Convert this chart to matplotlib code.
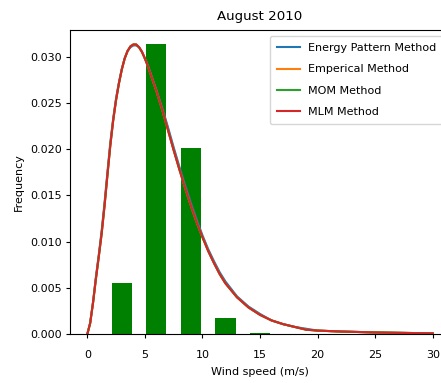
import matplotlib
matplotlib.use("Agg")
import matplotlib.pyplot as plt

# Observed wind speed histogram (m/s bins) for August 2010
bin_centers = [3, 6, 9, 12, 15]
bin_freq = [0.0055, 0.0313, 0.0201, 0.0018, 0.00015]

# Fitted Weibull curves sampled over the wind speed range
speed = [0, 0.25, 0.5, 0.75, 1.0, 1.25, 1.5, 1.75, 2.0, 2.25, 2.5, 2.75,
         3.0, 3.25, 3.5, 3.75, 4.0, 4.25, 4.5, 4.75, 5.0, 5.25, 5.5, 5.75,
         6.0, 6.5, 7.0, 7.5, 8.0, 8.5, 9.0, 9.5, 10.0, 10.5, 11.0, 11.5,
         12.0, 13.0, 14.0, 15.0, 16.0, 17.0, 18.0, 19.0, 20.0, 22.0, 25.0, 30.0]

pdf_energy = [0, 0.0012, 0.0035, 0.0062, 0.0086, 0.0112, 0.0142, 0.0175,
              0.0207, 0.0233, 0.0255, 0.0272, 0.0287, 0.0298, 0.0306, 0.0310,
              0.0312, 0.0312, 0.0310, 0.0305, 0.0298, 0.0291, 0.0282, 0.0273,
              0.0264, 0.0245, 0.0224, 0.0202, 0.0181, 0.0161, 0.0142, 0.0124,
              0.0107, 0.0092, 0.0079, 0.0067, 0.0057, 0.0041, 0.0030, 0.0022,
              0.0015, 0.0011, 0.0008, 0.0006, 0.0004, 0.0003, 0.0002, 0.0001]

# the other three estimators give practically the same curve
pdf_mlm = [0, 0.0012, 0.0034, 0.0060, 0.0084, 0.0109, 0.0139, 0.0172,
           0.0204, 0.0231, 0.0253, 0.0271, 0.0286, 0.0298, 0.0306, 0.0311,
           0.0313, 0.0313, 0.0310, 0.0305, 0.0298, 0.0290, 0.0281, 0.0272,
           0.0263, 0.0243, 0.0221, 0.0199, 0.0178, 0.0158, 0.0139, 0.0121,
           0.0105, 0.0090, 0.0077, 0.0065, 0.0055, 0.0040, 0.0029, 0.0021,
           0.0015, 0.0011, 0.0008, 0.0005, 0.0004, 0.0003, 0.0002, 0.0001]
pdf_empirical = list(pdf_mlm)
pdf_mom = list(pdf_mlm)

plt.rcParams["font.family"] = ["DejaVu Sans"]
plt.rcParams["font.size"] = 8

fig = plt.figure(figsize=(4.41, 3.83), dpi=100)
ax = fig.add_axes([70 / 441, 48.7 / 383, 380 / 441, 304.3 / 383])

ax.bar(bin_centers, bin_freq, width=1.75, color="g")
ax.plot(speed, pdf_energy, color="tab:blue", lw=1.5, label="Energy Pattern Method")
ax.plot(speed, pdf_empirical, color="tab:orange", lw=1.5, label="Emperical Method")
ax.plot(speed, pdf_mom, color="tab:green", lw=1.5, label="MOM Method")
ax.plot(speed, pdf_mlm, color="tab:red", lw=1.5, label="MLM Method")

ax.set_title("August 2010", fontsize=9.6, pad=7)
ax.set_xlabel("Wind speed (m/s)", labelpad=5.5)
ax.set_ylabel("Frequency")
ax.tick_params(length=2.6, labelsize=8)
ax.tick_params(axis="x", pad=8.5)
ax.legend(loc="upper right", fontsize=8, labelspacing=1.0, borderpad=0.7)

fig.savefig("out.png", dpi=100)
